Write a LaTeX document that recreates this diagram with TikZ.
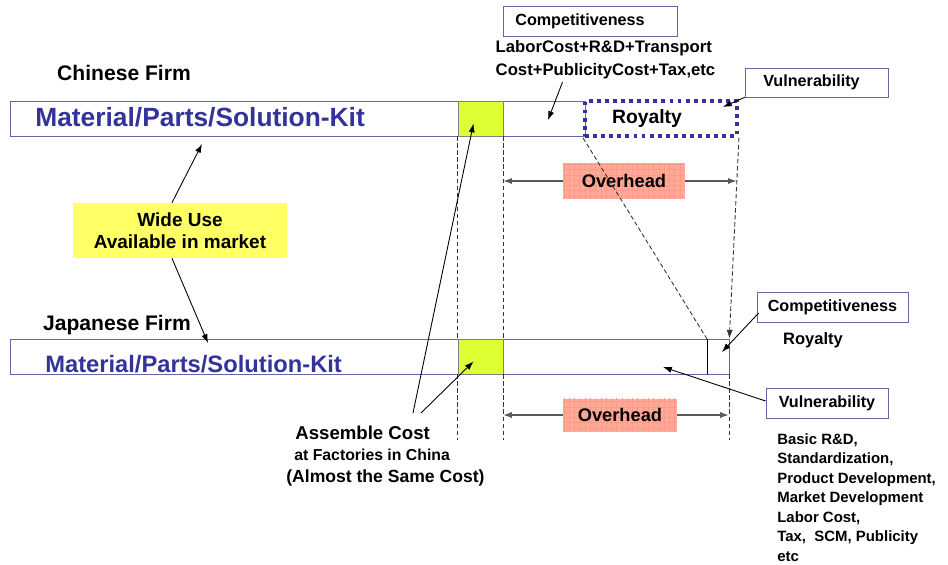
\documentclass[tikz,border=0pt]{standalone}
\usepackage{fontspec}
\setmainfont{Liberation Sans}
\usepackage{tikz}
\definecolor{kitblue}{HTML}{333399}
\definecolor{boxline}{HTML}{6666AA}
\definecolor{asmgreen}{HTML}{DDFF33}
\definecolor{ohpink}{HTML}{FFAA99}
\definecolor{ohgrid}{HTML}{FF9A88}
\definecolor{useyellow}{HTML}{FFFF66}
\tikzset{bar node/.style={draw=boxline,fill=white,minimum height=0.7cm,inner sep=0pt},
	green node/.style={draw=gray,fill=asmgreen,minimum width=0.9cm,minimum height=0.7cm,inner sep=0pt},
	tag node/.style={draw=boxline,fill=white,minimum height=0.6cm,inner sep=0pt,font=\fontsize{9.2}{11}\selectfont\bfseries},
	over node/.style={fill=ohpink,postaction={pattern=grid,pattern color=ohgrid},inner sep=0pt,font=\fontsize{10.4}{12}\selectfont\bfseries},
	kit text/.style={anchor=west,inner sep=0pt,text=kitblue,font=\bfseries},
	firm text/.style={inner sep=0pt,font=\fontsize{12}{14}\selectfont\bfseries},
	dash line/.style={dash pattern=on 2.5pt off 1.5pt,black!80,line width=0.5pt},
	arr line/.style={-{Latex[length=5pt,width=3.5pt]},line width=0.5pt},
	over line/.style={-{Latex[length=5pt,width=3.5pt]},line width=0.9pt,black!65},
}
\usetikzlibrary{positioning,arrows.meta,patterns}

\begin{document}
\begin{tikzpicture}[x=0.02cm,y=-0.02cm]
	\useasboundingbox (0,0) rectangle (948,565);
	
	%% Chinese firm
	\node[firm text] (cnfirm) at (124,73) {Chinese Firm};
	\node[bar node,minimum width=11.5cm] (barcn) at (297.5,118.5) {};
	\node[kit text,font=\fontsize{15}{18}\selectfont\bfseries] (kitcn) at (35,117) {Material/Parts/Solution-Kit};
	\node[green node] (grn1) at (480.5,118.5) {};
	\node[draw=kitblue,line width=2.2pt,dash pattern=on 2.2pt off 2.4pt,minimum width=3.04cm,minimum height=0.7cm,inner sep=0pt,font=\fontsize{11}{13}\selectfont\bfseries] (roy1) at (661,118.5) {\hspace*{-0.56cm}Royalty};
	\node[tag node,minimum width=3.48cm] (comp1) at (590,21) {\hspace*{-0.4cm}Competitiveness};
	\node[inner sep=0pt,align=left,font=\fontsize{9.5}{13}\selectfont\bfseries] (labor) at (605.5,59.5) {LaborCost+R\&D+Transport\\Cost+PublicityCost+Tax,etc};
	\node[tag node,minimum width=2.86cm,minimum height=0.58cm] (vul1) at (816.5,82.5) {\hspace*{-0.2cm}Vulnerability};
	\node[over node,minimum width=2.44cm,minimum height=0.72cm] (ovh1) at (624,181) {Overhead};
	\coordinate (ohl1) at (503,181);
	\coordinate (ohr1) at (737,181);
	\coordinate (cncomp) at (548,120);
	\coordinate (cnvul) at (723,107);
	
	%% market
	\node[fill=useyellow,minimum width=4.28cm,minimum height=1.1cm,inner sep=0pt,align=center,font=\fontsize{10.8}{12.5}\selectfont\bfseries] (wide) at (180,230.5) {Wide Use\\Available in market};
	\coordinate (cnuse) at (202,144);
	\coordinate (jpuse) at (208,343);
	
	%% Japanese firm
	\node[firm text] (jpfirm) at (117,325) {Japanese Firm};
	\node[bar node,minimum width=14.38cm] (barjp) at (369.5,356.5) {};
	\node[kit text,font=\fontsize{13.5}{16}\selectfont\bfseries] (kitjp) at (45,364) {Material/Parts/Solution-Kit};
	\node[green node] (grn2) at (480.5,356.5) {};
	\coordinate (div) at (707,339);
	\node[over node,minimum width=2.28cm,minimum height=0.66cm] (ovh2) at (620,415) {Overhead};
	\coordinate (ohl2) at (503,415);
	\coordinate (ohr2) at (729,415);
	\node[tag node,minimum width=3.02cm] (comp2) at (832.5,307) {Competitiveness};
	\node[inner sep=0pt,font=\fontsize{9.4}{11}\selectfont\bfseries] (roy2) at (813,340) {Royalty};
	\node[tag node,minimum width=2.44cm] (vul2) at (827,403) {Vulnerability};
	\node[inner sep=0pt,anchor=north west,align=left,font=\fontsize{8.5}{11.1}\selectfont\bfseries] (vuldet) at (777,433) {Basic R\&D,\\Standardization,\\Product Development,\\Market Development\\Labor Cost,\\Tax,\ \ SCM, Publicity\\etc};
	\coordinate (jpcomp) at (722,352);
	\coordinate (jpvul) at (663,367);
	
	%% assemble
	\node[inner sep=0pt,anchor=north west,align=left,font=\bfseries] (asm) at (286,426) {\fontsize{10.6}{12}\selectfont\hspace*{0.18cm}Assemble Cost\\\fontsize{9}{11}\selectfont\hspace*{0.16cm}at Factories in China\\(Almost the Same Cost)};
	
	%% guides
	\path[draw,dash line]
	(grn1.south west) edge (grn2.north west)
	(grn1.south east) edge (grn2.north east)
	(grn2.south west) edge ++(0,66)
	(grn2.south east) edge ++(0,66)
	(barjp.south east) edge ++(0,66)
	(roy1.south west) edge (div)
	;
	\draw[dash line,-{Latex[length=5pt,width=3.5pt]}] (roy1.south east) -- (barjp.north east);
	\draw (div) -- (div |- barjp.south);
	
	\path[over line]
	(ovh1) edge (ohl1)
	(ovh1) edge (ohr1)
	(ovh2) edge (ohl2)
	(ovh2) edge (ohr2)
	;
	
	\path[arr line]
	([shift={(-43,3)}]labor.south) edge (cncomp)
	(vul1.south west) edge (cnvul)
	([xshift=-0.16cm]wide.north) edge (cnuse)
	([xshift=-0.16cm]wide.south) edge (jpuse)
	([shift={(127,-13)}]asm.north west) edge ([shift={(-7,5)}]grn1.center)
	([shift={(135,-13)}]asm.north west) edge ([shift={(-7,5)}]grn2.center)
	([shift={(2,6)}]comp2.west) edge (jpcomp)
	([yshift=0.04cm]vul2.west) edge (jpvul)
	;
\end{tikzpicture}
\end{document}
